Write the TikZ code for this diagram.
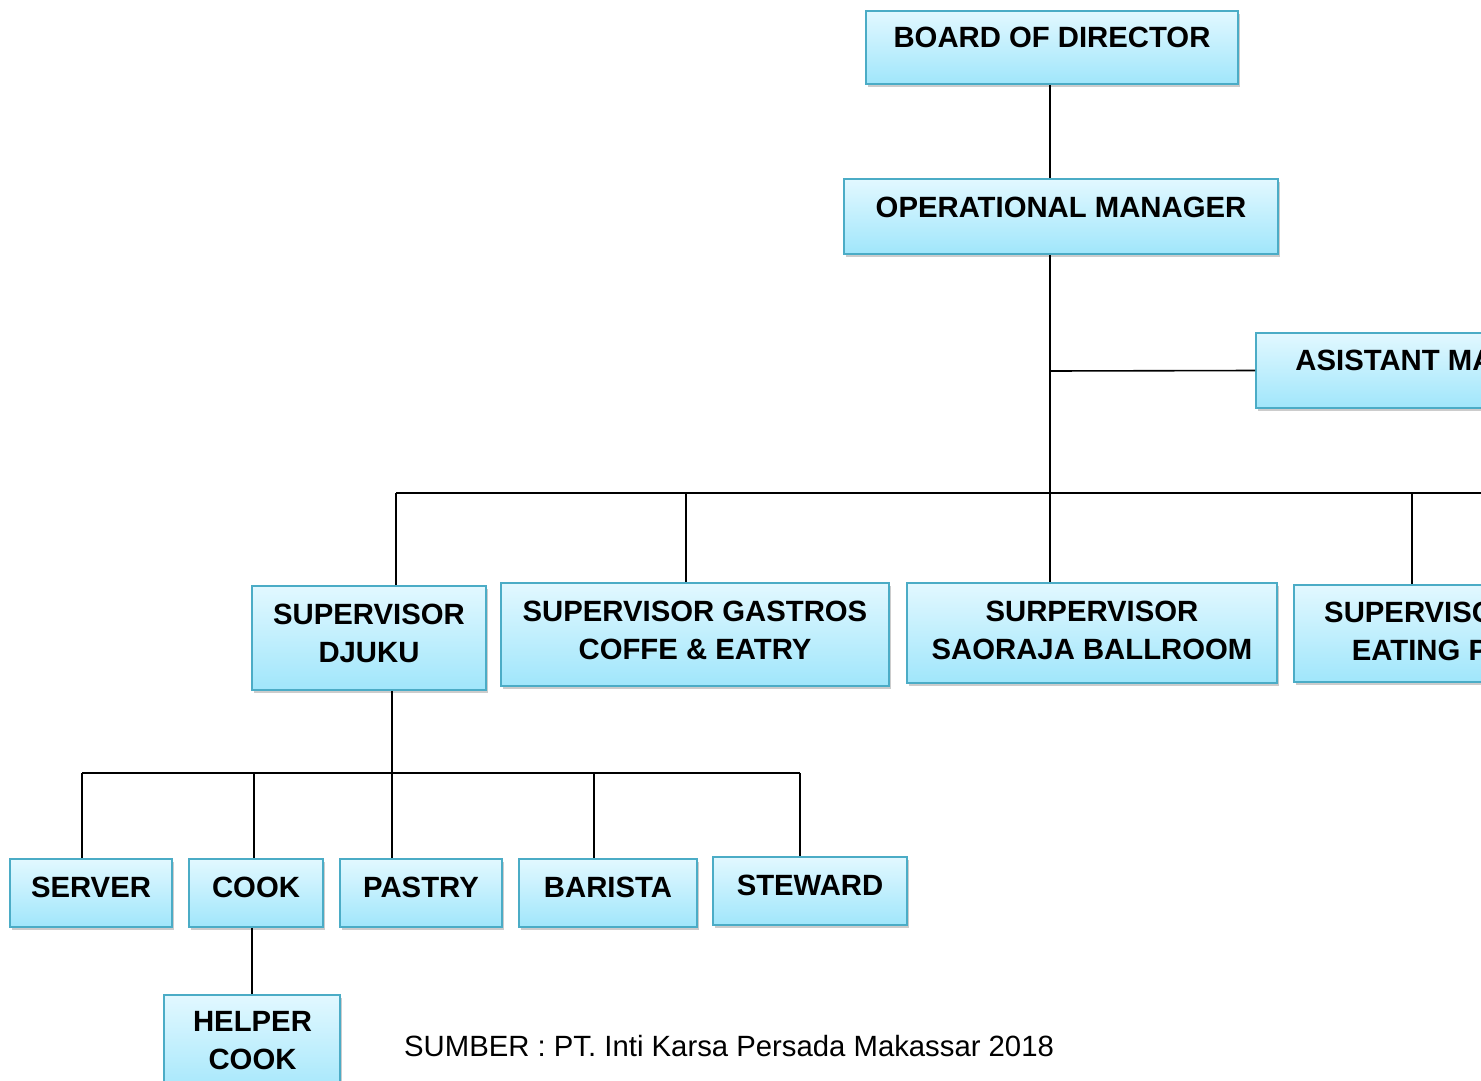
\documentclass[tikz,border=0pt]{standalone}
\usepackage{fontspec}
\setmainfont{Liberation Sans}
\usepackage{tikz}
\usetikzlibrary{shadows}
\definecolor{boxline}{HTML}{4BACC6}
\definecolor{boxtop}{RGB}{226,248,255}
\definecolor{boxbot}{RGB}{160,230,251}

\begin{document}
\begin{tikzpicture}[x=1pt,y=-1pt,
      unit/.style={rectangle,draw=boxline,line width=1.6pt,
        top color=boxtop,bottom color=boxbot,
        drop shadow={opacity=0.4,shadow xshift=2pt,shadow yshift=-3pt}},
      lbl/.style={font=\bfseries\fontsize{29.3}{38}\selectfont,align=center,inner sep=0pt},
      conn/.style={line width=1.6pt,black}]
    \useasboundingbox (0,0) rectangle (1481,1081);
    \clip (0,0) rectangle (1481,1081);

    \coordinate (jA) at (1050,371);
    \coordinate (busL) at (396,493);
    \coordinate (busR) at (1490,493);
    \coordinate (dG) at (686,493);
    \coordinate (dE) at (1412,493);
    \coordinate (sL) at (82,773);
    \coordinate (sC) at (254,773);
    \coordinate (sM) at (392,773);
    \coordinate (sB) at (594,773);
    \coordinate (sR) at (800,773);

    \node[unit,minimum width=372,minimum height=73] (bod) at (1052,47.5) {};
    \node[unit,minimum width=434,minimum height=75] (opm) at (1061,216.5) {};
    \node[unit,minimum width=400,minimum height=75] (asm) at (1456,370.5) {};
    \node[unit,minimum width=234,minimum height=104] (djuku) at (369,638) {};
    \node[unit,minimum width=388,minimum height=103] (gastros) at (695,634.5) {};
    \node[unit,minimum width=370,minimum height=100] (saoraja) at (1092,633) {};
    \node[unit,minimum width=252,minimum height=97] (eating) at (1420,633.5) {};
    \node[unit,minimum width=162,minimum height=68] (server) at (91,893) {};
    \node[unit,minimum width=134,minimum height=68] (cook) at (256,893) {};
    \node[unit,minimum width=162,minimum height=68] (pastry) at (421,893) {};
    \node[unit,minimum width=178,minimum height=68] (barista) at (608,893) {};
    \node[unit,minimum width=194,minimum height=68] (steward) at (810,891) {};
    \node[unit,minimum width=176,minimum height=105] (helper) at (252,1047.5) {};

    \draw[conn] (bod.south -| jA) -- (opm.north -| jA);
    \draw[conn] (opm.south -| jA) -- (saoraja.north -| jA);
    \draw[conn] (jA) -- (asm.west);
    \draw[conn] (busL) -- (busR);
    \draw[conn] (busL) -- (djuku.north -| busL);
    \draw[conn] (dG) -- (gastros.north -| dG);
    \draw[conn] (dE) -- (eating.north -| dE);
    \draw[conn] (djuku.south -| sM) -- (pastry.north -| sM);
    \draw[conn] (sL) -- (sR);
    \draw[conn] (sL) -- (server.north -| sL);
    \draw[conn] (sC) -- (cook.north -| sC);
    \draw[conn] (sB) -- (barista.north -| sB);
    \draw[conn] (sR) -- (steward.north -| sR);
    \draw[conn] (cook.south -| helper.north) -- (helper.north);

    \node[lbl] (bod-t) at ([yshift=10.5pt]bod.center) {BOARD OF DIRECTOR};
    \node[lbl] (opm-t) at ([yshift=9.5pt]opm.center) {OPERATIONAL MANAGER};
    \node[lbl,anchor=west] (asm-t) at ([yshift=10.5pt]asm.west) {\hspace{40pt}ASISTANT MANAGER};
    \node[lbl] (djuku-t) at ([yshift=5pt]djuku.center) {SUPERVISOR\\DJUKU};
    \node[lbl] (gastros-t) at ([yshift=4.5pt]gastros.center) {SUPERVISOR GASTROS\\COFFE \& EATRY};
    \node[lbl] (saoraja-t) at ([yshift=3pt]saoraja.center) {SURPERVISOR\\SAORAJA BALLROOM};
    \node[lbl] (eating-t) at ([yshift=2.5pt]eating.center) {SUPERVISOR\\EATING P};
    \node[lbl] (server-t) at ([yshift=6pt]server.center) {SERVER};
    \node[lbl] (cook-t) at ([yshift=6pt]cook.center) {COOK};
    \node[lbl] (pastry-t) at ([yshift=6pt]pastry.center) {PASTRY};
    \node[lbl] (barista-t) at ([yshift=6pt]barista.center) {BARISTA};
    \node[lbl] (steward-t) at ([yshift=6pt]steward.center) {STEWARD};
    \node[lbl] (helper-t) at (252.5,1041) {HELPER\\COOK};
    \node[font=\fontsize{29.3}{34}\selectfont,inner sep=0pt,anchor=base west] (sumber) at (404,1056) {SUMBER : PT. Inti Karsa Persada Makassar 2018};
  \end{tikzpicture}
\end{document}
